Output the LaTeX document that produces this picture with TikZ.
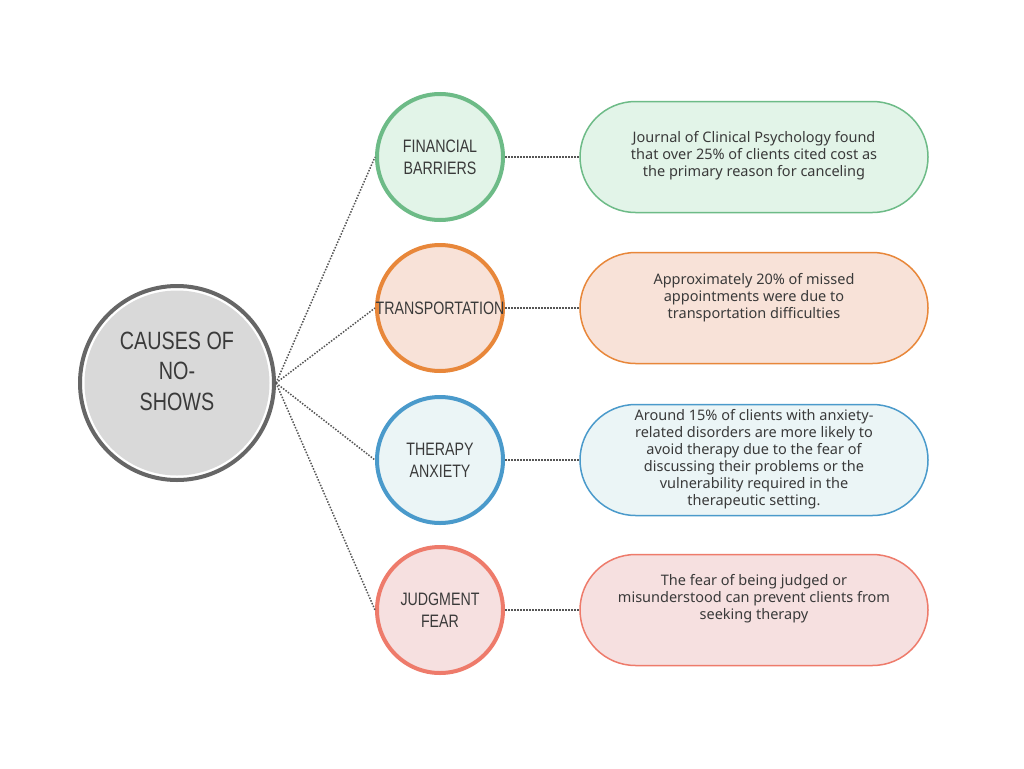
\documentclass[tikz,border=0pt]{standalone}
\usepackage{fontspec}
\setmainfont{Noto Sans}
\newfontfamily\narrowfont[FakeStretch=0.79]{Liberation Sans}
\definecolor{ringgrey}{HTML}{666666}
\definecolor{rootfill}{HTML}{D9D9D9}
\definecolor{textgrey}{HTML}{3A3A3A}
\definecolor{linkgrey}{HTML}{555555}
\definecolor{finline}{HTML}{6DBB87}
\definecolor{finfill}{HTML}{E2F4E8}
\definecolor{tranline}{HTML}{E8873A}
\definecolor{tranfill}{HTML}{F8E2D8}
\definecolor{anxline}{HTML}{4A9ACB}
\definecolor{anxfill}{HTML}{EBF5F6}
\definecolor{judline}{HTML}{EE7B6B}
\definecolor{judfill}{HTML}{F6E0E0}
\begin{document}
\begin{tikzpicture}[x=1pt,y=-1pt]
    \tikzstyle{cause}=[circle,minimum size=126pt,inner sep=0pt,line width=4pt,align=center,text=textgrey,font=\narrowfont\fontsize{18}{22}\selectfont]
    \tikzstyle{fact}=[rectangle,rounded corners=55.5pt,minimum width=348pt,minimum height=111pt,line width=1.5pt]
    \tikzstyle{facttext}=[align=center,text=textgrey,font=\fontsize{14.5}{17}\selectfont]
    \tikzstyle{link}=[linkgrey,line width=1.5pt,dash pattern=on 1.5pt off 1.5pt]
    \useasboundingbox[fill=white] (0,0) rectangle (1024,768);

    % centre
    \node[circle,draw=ringgrey,fill=white,line width=4pt,minimum size=194pt] (root) at (177,383) {};
    \node[circle,fill=rootfill,minimum size=185pt] (rootin) at (177,383) {};
    \node[align=center,text=textgrey,font=\narrowfont\fontsize{25}{30.5}\selectfont] (roottext) at (177,371) {CAUSES OF\\NO-\\SHOWS};

    % causes
    \node[cause,draw=finline,fill=finfill] (fin) at (440,157) {FINANCIAL\\BARRIERS};
    \node[cause,draw=tranline,fill=tranfill] (tran) at (440,308) {\makebox[0pt]{TRANSPORTATION}};
    \node[cause,draw=anxline,fill=anxfill] (anx) at (440,460) {THERAPY\\ANXIETY};
    \node[cause,draw=judline,fill=judfill] (jud) at (440,610) {JUDGMENT\\FEAR};

    % facts
    \node[fact,draw=finline,fill=finfill] (finfact) at (754,157) {};
    \node[facttext] (fintext) at (754,156) {Journal of Clinical Psychology found\\that over 25\% of clients cited cost as\\the primary reason for canceling};
    \node[fact,draw=tranline,fill=tranfill] (tranfact) at (754,308) {};
    \node[facttext] (trantext) at (754,298) {Approximately 20\% of missed\\appointments were due to\\transportation difficulties};
    \node[fact,draw=anxline,fill=anxfill] (anxfact) at (754,460) {};
    \node[facttext] (anxtext) at (754,459) {Around 15\% of clients with anxiety-\\related disorders are more likely to\\avoid therapy due to the fear of\\discussing their problems or the\\vulnerability required in the\\therapeutic setting.};
    \node[fact,draw=judline,fill=judfill] (judfact) at (754,610) {};
    \node[facttext] (judtext) at (754,599) {The fear of being judged or\\misunderstood can prevent clients from\\seeking therapy};

    % links
    \draw[link] (root.east) -- (fin.west);
    \draw[link] (root.east) -- (tran.west);
    \draw[link] (root.east) -- (anx.west);
    \draw[link] (root.east) -- (jud.west);
    \draw[link] (fin.east) -- (finfact.west);
    \draw[link] (tran.east) -- (tranfact.west);
    \draw[link] (anx.east) -- (anxfact.west);
    \draw[link] (jud.east) -- (judfact.west);
\end{tikzpicture}
\end{document}
